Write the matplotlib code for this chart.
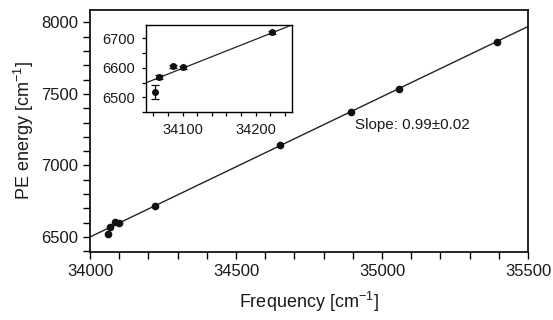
import matplotlib
matplotlib.use("Agg")
import matplotlib.pyplot as plt
import numpy as np
from matplotlib.ticker import MultipleLocator

plt.rcParams['font.family'] = ['Liberation Sans', 'DejaVu Sans']
plt.rcParams['mathtext.fontset'] = 'custom'
plt.rcParams['mathtext.rm'] = 'Liberation Sans'
plt.rcParams['mathtext.it'] = 'Liberation Sans'

# Data
freq = [34063, 34068, 34087, 34101, 34222, 34650, 34893, 35059, 35395]
pe = [6518, 6569, 6605, 6601, 6720, 7142, 7373, 7532, 7862]
pe_err = [25, 6, 5, 5, 6, 5, 5, 5, 5]
fit_slope = 0.981
fit_x0 = 34000
fit_y0 = 6500
slope_text = "Slope: 0.99\u00b10.02"

W, H = 553, 320
fig = plt.figure(figsize=(W / 100, H / 100), dpi=100)

def rect(l, r, t, b):
    return [l / W, 1 - b / H, (r - l) / W, (b - t) / H]

txt = '#1a1a1a'
ax = fig.add_axes(rect(90, 528, 10, 252))
fx = np.array([34000, 35500])
ax.plot(fx, fit_y0 + fit_slope * (fx - fit_x0), color='#222222', lw=1.0)
ax.plot(freq, pe, 'o', color='#111111', ms=4.5)
ax.set_xlim(34000, 35500)
ax.set_ylim(6395, 8087)
ax.xaxis.set_major_locator(MultipleLocator(500))
ax.xaxis.set_minor_locator(MultipleLocator(100))
ax.yaxis.set_major_locator(MultipleLocator(500))
ax.yaxis.set_minor_locator(MultipleLocator(100))
ax.tick_params(which='both', direction='out', length=5, width=1.0, labelsize=12,
               top=False, right=False, labelcolor=txt)
for s in ax.spines.values():
    s.set_linewidth(1.2)
ax.set_xlabel(r'Frequency [cm$^{\mathrm{-1}}$]', fontsize=13, labelpad=8, color=txt)
ax.set_ylabel(r'PE energy [cm$^{\mathrm{-1}}$]', fontsize=13, labelpad=4, color=txt)
ax.text(34908, 7282, slope_text, fontsize=11, ha='left', va='center', color=txt)

# Inset
ins = fig.add_axes(rect(146, 292, 25, 112))
ix = np.array([34050, 34250])
ins.plot(ix, fit_y0 + fit_slope * (ix - fit_x0), color='#222222', lw=0.9)
ins.errorbar(freq, pe, yerr=pe_err, fmt='o', color='#111111', ms=4,
             capsize=3, elinewidth=0.9, capthick=0.9)
ins.set_xlim(34050, 34250)
ins.set_ylim(6450, 6745)
ins.xaxis.set_major_locator(MultipleLocator(100))
ins.xaxis.set_minor_locator(MultipleLocator(20))
ins.yaxis.set_major_locator(MultipleLocator(100))
ins.yaxis.set_minor_locator(MultipleLocator(50))
ins.tick_params(which='both', direction='out', length=3, width=0.9, labelsize=10.5,
                top=False, right=False, pad=5, labelcolor=txt)
for s in ins.spines.values():
    s.set_linewidth(1.0)

fig.savefig('out.png', dpi=100)
